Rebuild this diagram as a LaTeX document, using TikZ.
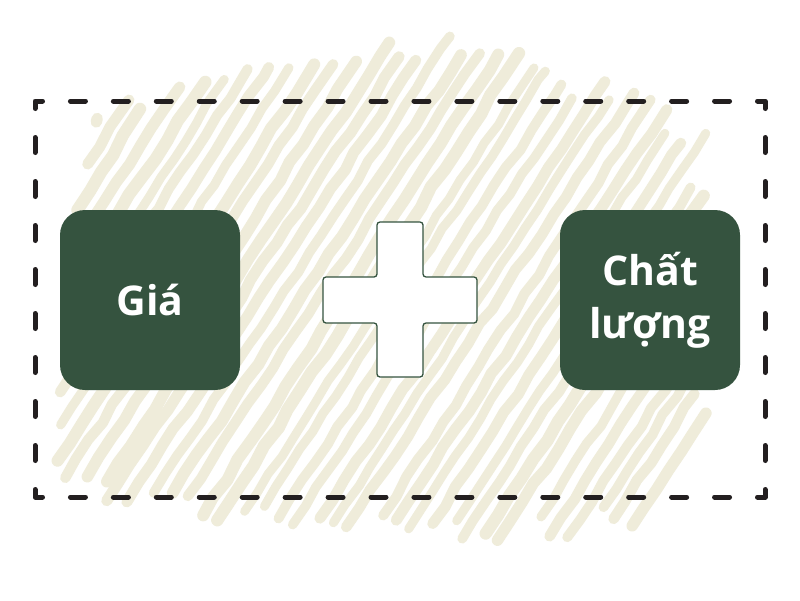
\documentclass[tikz,border=0pt]{standalone}
\usepackage{fontspec}
\setmainfont{Open Sans}
\usetikzlibrary{decorations.pathmorphing}
\definecolor{boxgreen}{RGB}{53,83,63}
\definecolor{dashblack}{RGB}{35,31,32}
\definecolor{scrib}{RGB}{239,236,218}
\begin{document}
\begin{tikzpicture}[x=1pt,y=-1pt,
  greenbox/.style={fill=boxgreen,rounded corners=25pt,minimum width=180pt,minimum height=180pt,inner sep=0pt,text=white,font=\fontsize{41}{53}\selectfont\bfseries,align=center},
  border/.style={draw=dashblack,line width=5pt,line cap=round,line join=round},
  scribline/.style={draw=scrib,line cap=round,line join=round,decorate,decoration={random steps,segment length=22pt,amplitude=1.6pt}}]
\useasboundingbox (0,0) rectangle (800,600);
\fill[white] (0,0) rectangle (800,600);
% scribble background
\pgfmathsetseed{5}
\foreach \cc in {-20,0,...,782}{
  \pgfmathsetmacro{\c}{\cc+rand*4}
  \pgfmathsetmacro{\ta}{120-(\c+20)/135*58}
  \pgfmathsetmacro{\tb}{62-(\c-115)/199*17}
  \pgfmathsetmacro{\tc}{45+(\c-314)/266*85}
  \pgfmathsetmacro{\tr}{300-(700-\c)/0.65}
  \pgfmathsetmacro{\tp}{ifthenelse(\c<115,\ta,ifthenelse(\c<314,\tb,\tc))}
  \pgfmathsetmacro{\yt}{max(\tp,\tr)+rand*14}
  \pgfmathsetmacro{\ba}{470+(\c-170)/90*30}
  \pgfmathsetmacro{\bb}{500+(\c-260)/183*20}
  \pgfmathsetmacro{\bc}{520+(\c-443)/210*15}
  \pgfmathsetmacro{\bd}{535-(\c-653)/127*20}
  \pgfmathsetmacro{\bl}{(\c+92.8)/0.556}
  \pgfmathsetmacro{\bp}{ifthenelse(\c<170,470,ifthenelse(\c<260,\ba,ifthenelse(\c<443,\bb,ifthenelse(\c<653,\bc,\bd))))}
  \pgfmathsetmacro{\yb}{min(\bp,\bl)+rand*14}
  \pgfmathsetmacro{\xt}{\c+(300-\yt)*0.65+rand*3}
  \pgfmathsetmacro{\xb}{\c+(300-\yb)*0.65+rand*3}
  \pgfmathsetmacro{\w}{8.5+rnd*4}
  \path[scribline,line width=\w pt] (\xb,\yb) -- (\xt,\yt);
}
% dashed frame: corners
\draw[border] (35,108.5) -- (35,101) -- (42.5,101);
\draw[border] (757.5,101) -- (765,101) -- (765,108.5);
\draw[border] (765,489.5) -- (765,497) -- (757.5,497);
\draw[border] (42.5,497) -- (35,497) -- (35,489.5);
% dashed frame: sides
\foreach \k in {0,...,15}{
  \pgfmathsetmacro{\s}{45+22.94+42.94*\k}
  \draw[border] (\s+2.5,101) -- (\s+17.5,101);
  \draw[border] (\s+2.5,497) -- (\s+17.5,497);
}
\foreach \k in {0,...,7}{
  \pgfmathsetmacro{\s}{111+24+44*\k}
  \draw[border] (35,\s+2.5) -- (35,\s+17.5);
  \draw[border] (765,\s+2.5) -- (765,\s+17.5);
}
% boxes
\node[greenbox] (gia) at (150,300) {Giá};
\node[greenbox] (cl) at (650,300) {Chất\\lượng};
% plus
\draw[draw=boxgreen,fill=white,line width=1.3pt,rounded corners=3pt]
 (377,222) -- (423,222) -- (423,277) -- (477,277) -- (477,323) -- (423,323) -- (423,377) -- (377,377) -- (377,323) -- (323,323) -- (323,277) -- (377,277) -- cycle;
\end{tikzpicture}
\end{document}
